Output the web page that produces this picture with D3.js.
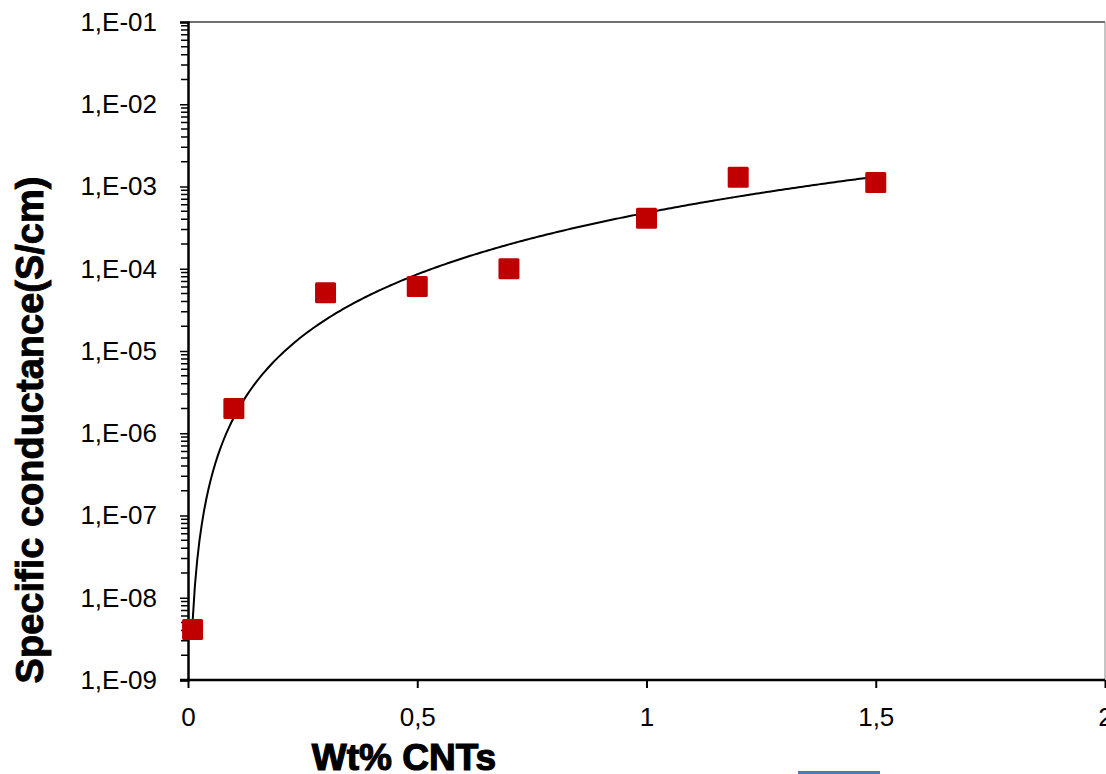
<!DOCTYPE html>
<html>
<head>
<meta charset="utf-8">
<script src="https://cdn.jsdelivr.net/npm/d3@7"></script>
<style>
  body { margin: 0; background: #fff; }
  svg { display: block; }
</style>
</head>
<body>
<div id="chart-area"></div>
<script>
// data
const wtPercent = [0.01, 0.1, 0.3, 0.5, 0.7, 1.0, 1.2, 1.5]
const conductance = [4.1e-9, 2.0e-6, 5.1e-5, 6.1e-5, 1.0e-4, 4.1e-4, 1.3e-3, 1.12e-3]
const yTickValues = [1e-9, 1e-8, 1e-7, 1e-6, 1e-5, 1e-4, 1e-3, 1e-2, 1e-1]
const yTickLabels = ["1,E-09", "1,E-08", "1,E-07", "1,E-06", "1,E-05", "1,E-04", "1,E-03", "1,E-02", "1,E-01"]
const xTickValues = [0, 0.5, 1, 1.5, 2]
const xTickLabels = ["0", "0,5", "1", "1,5", "2"]

const W = 1106, H = 774
const MARGIN = { LEFT: 188, RIGHT: 1, TOP: 22, BOTTOM: 94 }
const WIDTH = W - MARGIN.LEFT - MARGIN.RIGHT
const HEIGHT = H - MARGIN.TOP - MARGIN.BOTTOM

const svg = d3.select("#chart-area").append("svg")
  .attr("width", W)
  .attr("height", H)

const g = svg.append("g")
  .attr("transform", `translate(${MARGIN.LEFT}, ${MARGIN.TOP})`)

const x = d3.scaleLinear().domain([0, 2]).range([0, WIDTH])
const y = d3.scaleLog().domain([1e-9, 1e-1]).range([HEIGHT, 0])

// plot frame (top / right)
g.append("line").attr("x1", 0).attr("x2", WIDTH).attr("y1", 0).attr("y2", 0)
  .attr("stroke", "#404040").attr("stroke-width", 1.5)
g.append("line").attr("x1", WIDTH).attr("x2", WIDTH).attr("y1", 0).attr("y2", HEIGHT)
  .attr("stroke", "#8a8a8a").attr("stroke-width", 1)

// minor ticks on log axis
const minor = []
yTickValues.slice(0, -1).forEach(v => {
  for (let k = 2; k <= 9; k++) minor.push(v * k)
})
g.append("g")
  .selectAll("line")
  .data(minor)
  .enter().append("line")
  .attr("x1", -7).attr("x2", 0)
  .attr("y1", d => y(d)).attr("y2", d => y(d))
  .attr("stroke", "#000").attr("stroke-width", 1.5)

// y axis
const yAxisCall = d3.axisLeft(y)
  .tickValues(yTickValues)
  .tickFormat((d, i) => yTickLabels[i])
  .tickSize(8)
  .tickPadding(23)
const yAxis = g.append("g").attr("class", "y axis").call(yAxisCall)
yAxis.select(".domain").attr("stroke-width", 2.5)
yAxis.selectAll(".tick line").attr("stroke-width", 1.5)
yAxis.selectAll("text")
  .attr("font-family", "Liberation Sans, Arial, sans-serif")
  .attr("font-size", "26px")
  .attr("fill", "#000")

// x axis
const xAxisCall = d3.axisBottom(x)
  .tickValues(xTickValues)
  .tickFormat((d, i) => xTickLabels[i])
  .tickSize(8)
  .tickPadding(20)
const xAxis = g.append("g").attr("class", "x axis")
  .attr("transform", `translate(0, ${HEIGHT})`)
  .call(xAxisCall)
xAxis.select(".domain").attr("stroke-width", 2.5).attr("d", `M-8,0H${WIDTH}`)
xAxis.selectAll(".tick line").attr("stroke-width", 2)
xAxis.selectAll("text")
  .attr("font-family", "Liberation Sans, Arial, sans-serif")
  .attr("font-size", "26px")
  .attr("fill", "#000")

// power trendline (least squares on log-log, like a spreadsheet power fit)
const lx = wtPercent.map(Math.log), ly = conductance.map(Math.log)
const mx = d3.mean(lx), my = d3.mean(ly)
const b = d3.sum(lx, (v, i) => (v - mx) * (ly[i] - my)) / d3.sum(lx, v => (v - mx) * (v - mx))
const a = Math.exp(my - b * mx)
const fitX = d3.range(0, 301).map(i => wtPercent[0] + (d3.max(wtPercent) - wtPercent[0]) * i / 300)
const line = d3.line().x(d => x(d)).y(d => y(a * Math.pow(d, b)))
g.append("path")
  .datum(fitX)
  .attr("d", line)
  .attr("fill", "none")
  .attr("stroke", "#000")
  .attr("stroke-width", 2)

// markers
const S = 21
g.selectAll("rect.pt")
  .data(wtPercent)
  .enter().append("rect")
  .attr("class", "pt")
  .attr("x", d => x(d) - S / 2)
  .attr("y", (d, i) => y(conductance[i]) - S / 2)
  .attr("width", S)
  .attr("height", S)
  .attr("rx", 1.5)
  .attr("fill", "#C00000")

// axis labels
svg.append("text")
  .attr("transform", `translate(43, 430) rotate(-90)`)
  .attr("text-anchor", "middle")
  .attr("font-family", "Liberation Sans, Arial, sans-serif")
  .attr("font-weight", "bold")
  .attr("font-size", "38px")
  .attr("stroke", "#000")
  .attr("stroke-width", 0.9)
  .attr("fill", "#000")
  .text("Specific conductance(S/cm)")

svg.append("text")
  .attr("x", 404)
  .attr("y", 770)
  .attr("text-anchor", "middle")
  .attr("font-family", "Liberation Sans, Arial, sans-serif")
  .attr("font-weight", "bold")
  .attr("font-size", "37px")
  .attr("stroke", "#000")
  .attr("stroke-width", 1.2)
  .attr("fill", "#000")
  .text("Wt% CNTs")

// cropped element at the bottom edge
svg.append("rect")
  .attr("x", 798).attr("y", 771).attr("width", 82).attr("height", 3)
  .attr("fill", "#4F7AB5")
</script>
</body>
</html>
